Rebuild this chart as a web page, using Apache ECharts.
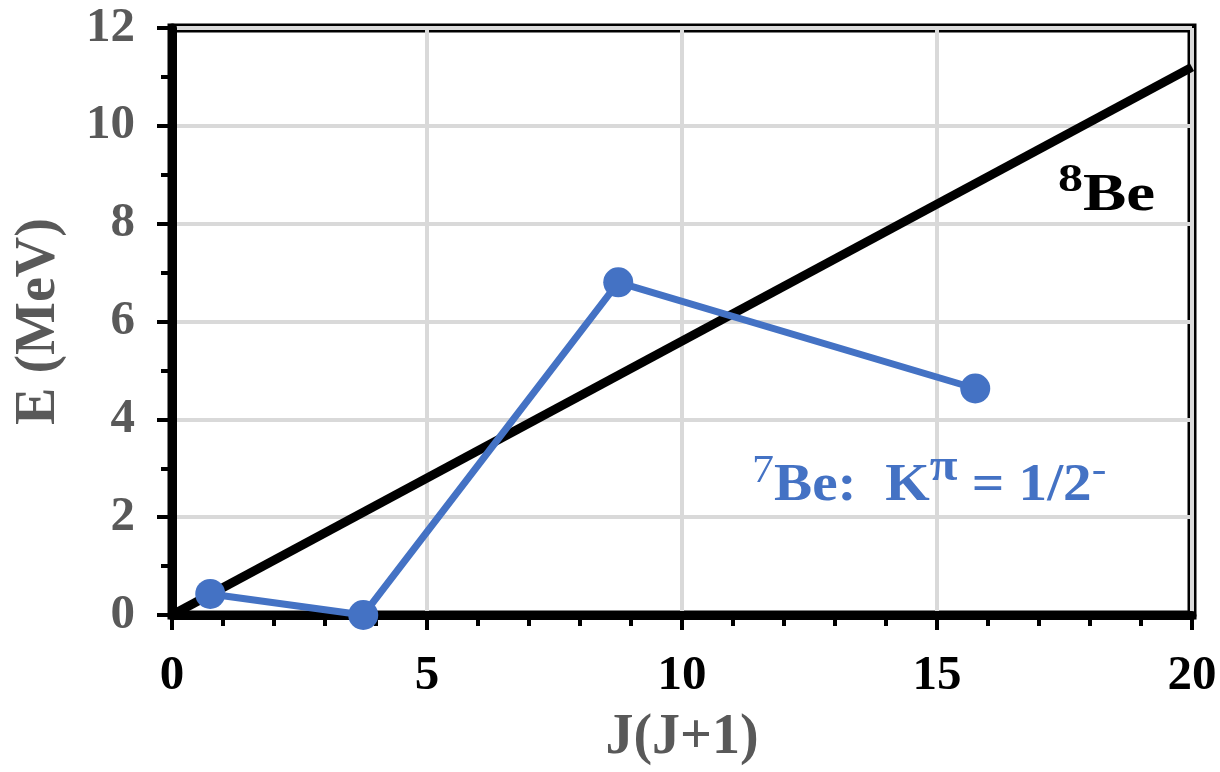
<!DOCTYPE html>
<html>
<head>
<meta charset="utf-8">
<script src="https://cdn.jsdelivr.net/npm/echarts@6/dist/echarts.min.js"></script>
<style>html,body{margin:0;padding:0;background:#fff}#c{width:1220px;height:772px}</style>
</head>
<body>
<div id="c"></div>
<script>
// J(J+1) values and energies for 7Be (K^pi = 1/2-)
const be7X = [0.75, 3.75, 8.75, 15.75];
const be7E = [0.43, 0.0, 6.8, 4.63];
// 8Be reference line endpoints
const be8X = [0, 20];
const be8E = [0, 11.2];

const serif = 'Liberation Serif';
const supStyle = (color, size, weight) => ({ fontFamily: serif, fontWeight: weight, fontSize: size, lineHeight: size, padding: [0, 0, 22, 0], verticalAlign: 'bottom', fill: color });
const mainStyle = (color) => ({ fontFamily: serif, fontWeight: 'bold', fontSize: 52, lineHeight: 52, verticalAlign: 'bottom', fill: color });

const chart = echarts.init(document.getElementById('c'));
chart.setOption({
  backgroundColor: '#fff',
  animation: false,
  grid: { left: 172, right: 28, top: 28, bottom: 156, show: true, borderColor: '#000', borderWidth: 9, backgroundColor: 'transparent' },
  xAxis: {
    type: 'value', min: 0, max: 20, interval: 5,
    name: 'J(J+1)', nameLocation: 'middle', nameGap: 96,
    nameTextStyle: { fontFamily: serif, fontWeight: 'bold', fontSize: 56, color: '#595959' },
    axisLine: { show: true, lineStyle: { color: '#000', width: 9 } },
    axisTick: { show: true, inside: false, length: 15, lineStyle: { color: '#000', width: 4 } },
    minorTick: { show: true, splitNumber: 5, length: 11, lineStyle: { color: '#000', width: 4 } },
    axisLabel: { margin: 37, fontFamily: serif, fontWeight: 'bold', fontSize: 49, color: '#000' },
    splitLine: { show: true, lineStyle: { color: '#d9d9d9', width: 4 } }
  },
  yAxis: {
    type: 'value', min: 0, max: 12, interval: 2,
    name: 'E (MeV)', nameLocation: 'middle', nameGap: 104, nameRotate: 90,
    nameTextStyle: { fontFamily: serif, fontWeight: 'bold', fontSize: 56, color: '#595959' },
    axisLine: { show: true, lineStyle: { color: '#000', width: 9 } },
    axisTick: { show: true, inside: false, length: 15, lineStyle: { color: '#000', width: 4 } },
    minorTick: { show: true, splitNumber: 2, length: 11, lineStyle: { color: '#000', width: 4 } },
    axisLabel: { margin: 37, fontFamily: serif, fontWeight: 'bold', fontSize: 49, color: '#595959' },
    splitLine: { show: true, lineStyle: { color: '#d9d9d9', width: 4 } }
  },
  series: [
    {
      type: 'line', name: '8Be',
      data: be8X.map((x, i) => [x, be8E[i]]),
      showSymbol: false, symbol: 'none',
      lineStyle: { color: '#000', width: 9 },
      z: 3
    },
    {
      type: 'line', name: '7Be',
      data: be7X.map((x, i) => [x, be7E[i]]),
      symbol: 'circle', symbolSize: 30,
      itemStyle: { color: '#4472C4' },
      lineStyle: { color: '#4472C4', width: 7 },
      clip: false,
      z: 4
    }
  ],
  graphic: [
    {
      type: 'text', x: 1058, y: 171, scaleX: 1.25, z: 10,
      style: {
        text: '{sup|8}{main|Be}',
        fill: '#000',
        rich: {
          sup: supStyle('#000', 40, 'bold'),
          main: mainStyle('#000')
        }
      }
    },
    {
      type: 'text', x: 752, y: 461, scaleX: 1.1, z: 10,
      style: {
        text: '{sup|7}{main|Be:  K}{pi|π}{main| = 1/2}{sup|-}',
        fill: '#4472C4',
        rich: {
          sup: supStyle('#4472C4', 40, 'normal'),
          pi: supStyle('#4472C4', 46, 'bold'),
          main: mainStyle('#4472C4')
        }
      }
    }
  ]
});
</script>
</body>
</html>
